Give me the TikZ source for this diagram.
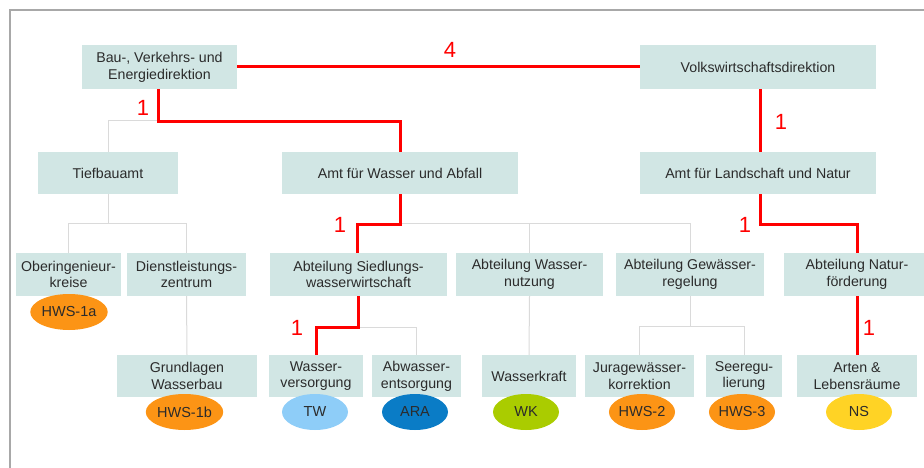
\documentclass[tikz,border=0pt]{standalone}
\usepackage{fontspec}
\setmainfont{Liberation Sans}
\usetikzlibrary{shapes.geometric,calc}
\definecolor{boxc}{HTML}{D1E6E4}
\definecolor{txtc}{HTML}{2B2B2B}
\definecolor{linec}{HTML}{DADADA}
\definecolor{redc}{HTML}{FF0000}
\definecolor{orangec}{HTML}{FC9415}
\definecolor{lblue}{HTML}{8ECDF8}
\definecolor{dblue}{HTML}{0A7CC6}
\definecolor{greenc}{HTML}{AACC00}
\definecolor{yellowc}{HTML}{FFD325}
\definecolor{framec}{HTML}{A8A8A8}
\begin{document}
\begin{tikzpicture}[x=1pt,y=-1pt,
  box/.style={fill=boxc,draw=none,inner sep=0pt,align=center,text=txtc,
    font=\fontsize{14.2}{16.7}\selectfont},
  oval/.style={ellipse,draw=none,minimum width=66pt,minimum height=36pt,inner sep=0pt,
    text=txtc,font=\fontsize{14.5}{16}\selectfont},
  gl/.style={draw=linec,line width=1pt},
  rl/.style={draw=redc,line width=3pt},
  num/.style={text=redc,font=\fontsize{22}{22}\selectfont,inner sep=0pt}]
\useasboundingbox (0,0) rectangle (924,468);
\draw[framec,line width=1.5pt] (10,470) -- (10,10) -- (926,10);

% level 1
\node[box,minimum width=155pt,minimum height=44pt] (bau) at (159.5,67) {Bau-, Verkehrs- und\\Energiedirektion};
\node[box,minimum width=236pt,minimum height=44pt] (volks) at (758,67) {Volkswirtschaftsdirektion};
% level 2
\node[box,minimum width=140pt,minimum height=42pt] (tief) at (108,173) {Tiefbauamt};
\node[box,minimum width=236pt,minimum height=42pt] (amtw) at (400,173) {Amt für Wasser und Abfall};
\node[box,minimum width=236pt,minimum height=42pt] (amtl) at (758,173) {Amt für Landschaft und Natur};
% level 3
\node[box,minimum width=105pt,minimum height=43pt] (ober) at (68.5,274.5) {Oberingenieur-\\kreise};
\node[box,minimum width=119pt,minimum height=43pt] (dienst) at (186.5,274.5) {Dienstleistungs-\\zentrum};
\node[box,minimum width=177pt,minimum height=43pt] (sied) at (358.5,274.5) {Abteilung Siedlungs-\\wasserwirtschaft};
\node[box,minimum width=147pt,minimum height=43pt] (wnutz) at (529.5,274.5) {Abteilung Wasser-\\nutzung};
\node[box,minimum width=148pt,minimum height=43pt] (gew) at (690,274.5) {Abteilung Gewässer-\\regelung};
\node[box,minimum width=146pt,minimum height=43pt] (natur) at (857,274.5) {Abteilung Natur-\\förderung};
% level 4
\node[box,minimum width=140pt,minimum height=42pt] (grund) at (187,376) {Grundlagen\\Wasserbau};
\node[box,minimum width=94pt,minimum height=42pt] (wv) at (316,376) {Wasser-\\versorgung};
\node[box,minimum width=89pt,minimum height=42pt] (abw) at (416.5,376) {Abwasser-\\entsorgung};
\node[box,minimum width=94pt,minimum height=42pt] (wk) at (529,376) {Wasserkraft};
\node[box,minimum width=109pt,minimum height=42pt] (jura) at (639.5,376) {Juragewässer-\\korrektion};
\node[box,minimum width=76pt,minimum height=42pt] (see) at (744,376) {Seeregu-\\lierung};
\node[box,minimum width=120pt,minimum height=42pt] (arten) at (857,376) {Arten \&\\Lebensräume};

% gray connectors
\draw[gl] (bau.south) -- ++(0,32);
\draw[gl] (tief.north) -- ++(0,-31) -| (amtw.north);
\draw[gl] (tief.south) -- ++(0,30);
\draw[gl] (ober.north) -- ++(0,-29) -| (dienst.north);
\draw[gl] (dienst.south) -- (grund.north);
\draw[gl] (sied.north) -- ++(0,-29) -| (gew.north);
\draw[gl] (wnutz.north) -- ++(0,-29);
\draw[gl] (wnutz.south) -- (wk.north);
\draw[gl] (sied.south) -- ++(0,31) -| (abw.north);
\draw[gl] (gew.south) -- ++(0,31);
\draw[gl] (jura.north) -- ++(0,-28) -| (see.north);

% red connectors
\draw[rl] (bau.east) -- (volks.west);
\draw[rl] ([xshift=-1.5pt]bau.south) -- ++(0,32) -| (amtw.north);
\draw[rl] (amtw.south) -- ++(0,30) -| ([xshift=-1.5pt]sied.north);
\draw[rl] (sied.south) -- ++(0,31) -| (wv.north);
\draw[rl] ([xshift=2pt]volks.south) -- ([xshift=2pt]amtl.north);
\draw[rl] ([xshift=2pt]amtl.south) -- ++(0,30) -| (natur.north);
\draw[rl] (natur.south) -- (arten.north);

% ellipses
\node[oval,fill=orangec] (h1a) at (69,312) {HWS-1a};
\node[oval,fill=orangec] (h1b) at (184.5,412) {HWS-1b};
\node[oval,fill=lblue] (tw) at (315,412) {TW};
\node[oval,fill=dblue] (ara) at (415,412) {ARA};
\node[oval,fill=greenc] (wkk) at (526,412) {WK};
\node[oval,fill=orangec] (h2) at (642,412) {HWS-2};
\node[oval,fill=orangec] (h3) at (742,412) {HWS-3};
\node[oval,fill=yellowc] (ns) at (859,412) {NS};

% red numbers
\node[num] (n4) at (450,50) {4};
\node[num] (n1a) at (143,108) {1};
\node[num] (n1b) at (781,122) {1};
\node[num] (n1c) at (340,225) {1};
\node[num] (n1d) at (297,328) {1};
\node[num] (n1e) at (745,225) {1};
\node[num] (n1f) at (869,328) {1};
\end{tikzpicture}
\end{document}
